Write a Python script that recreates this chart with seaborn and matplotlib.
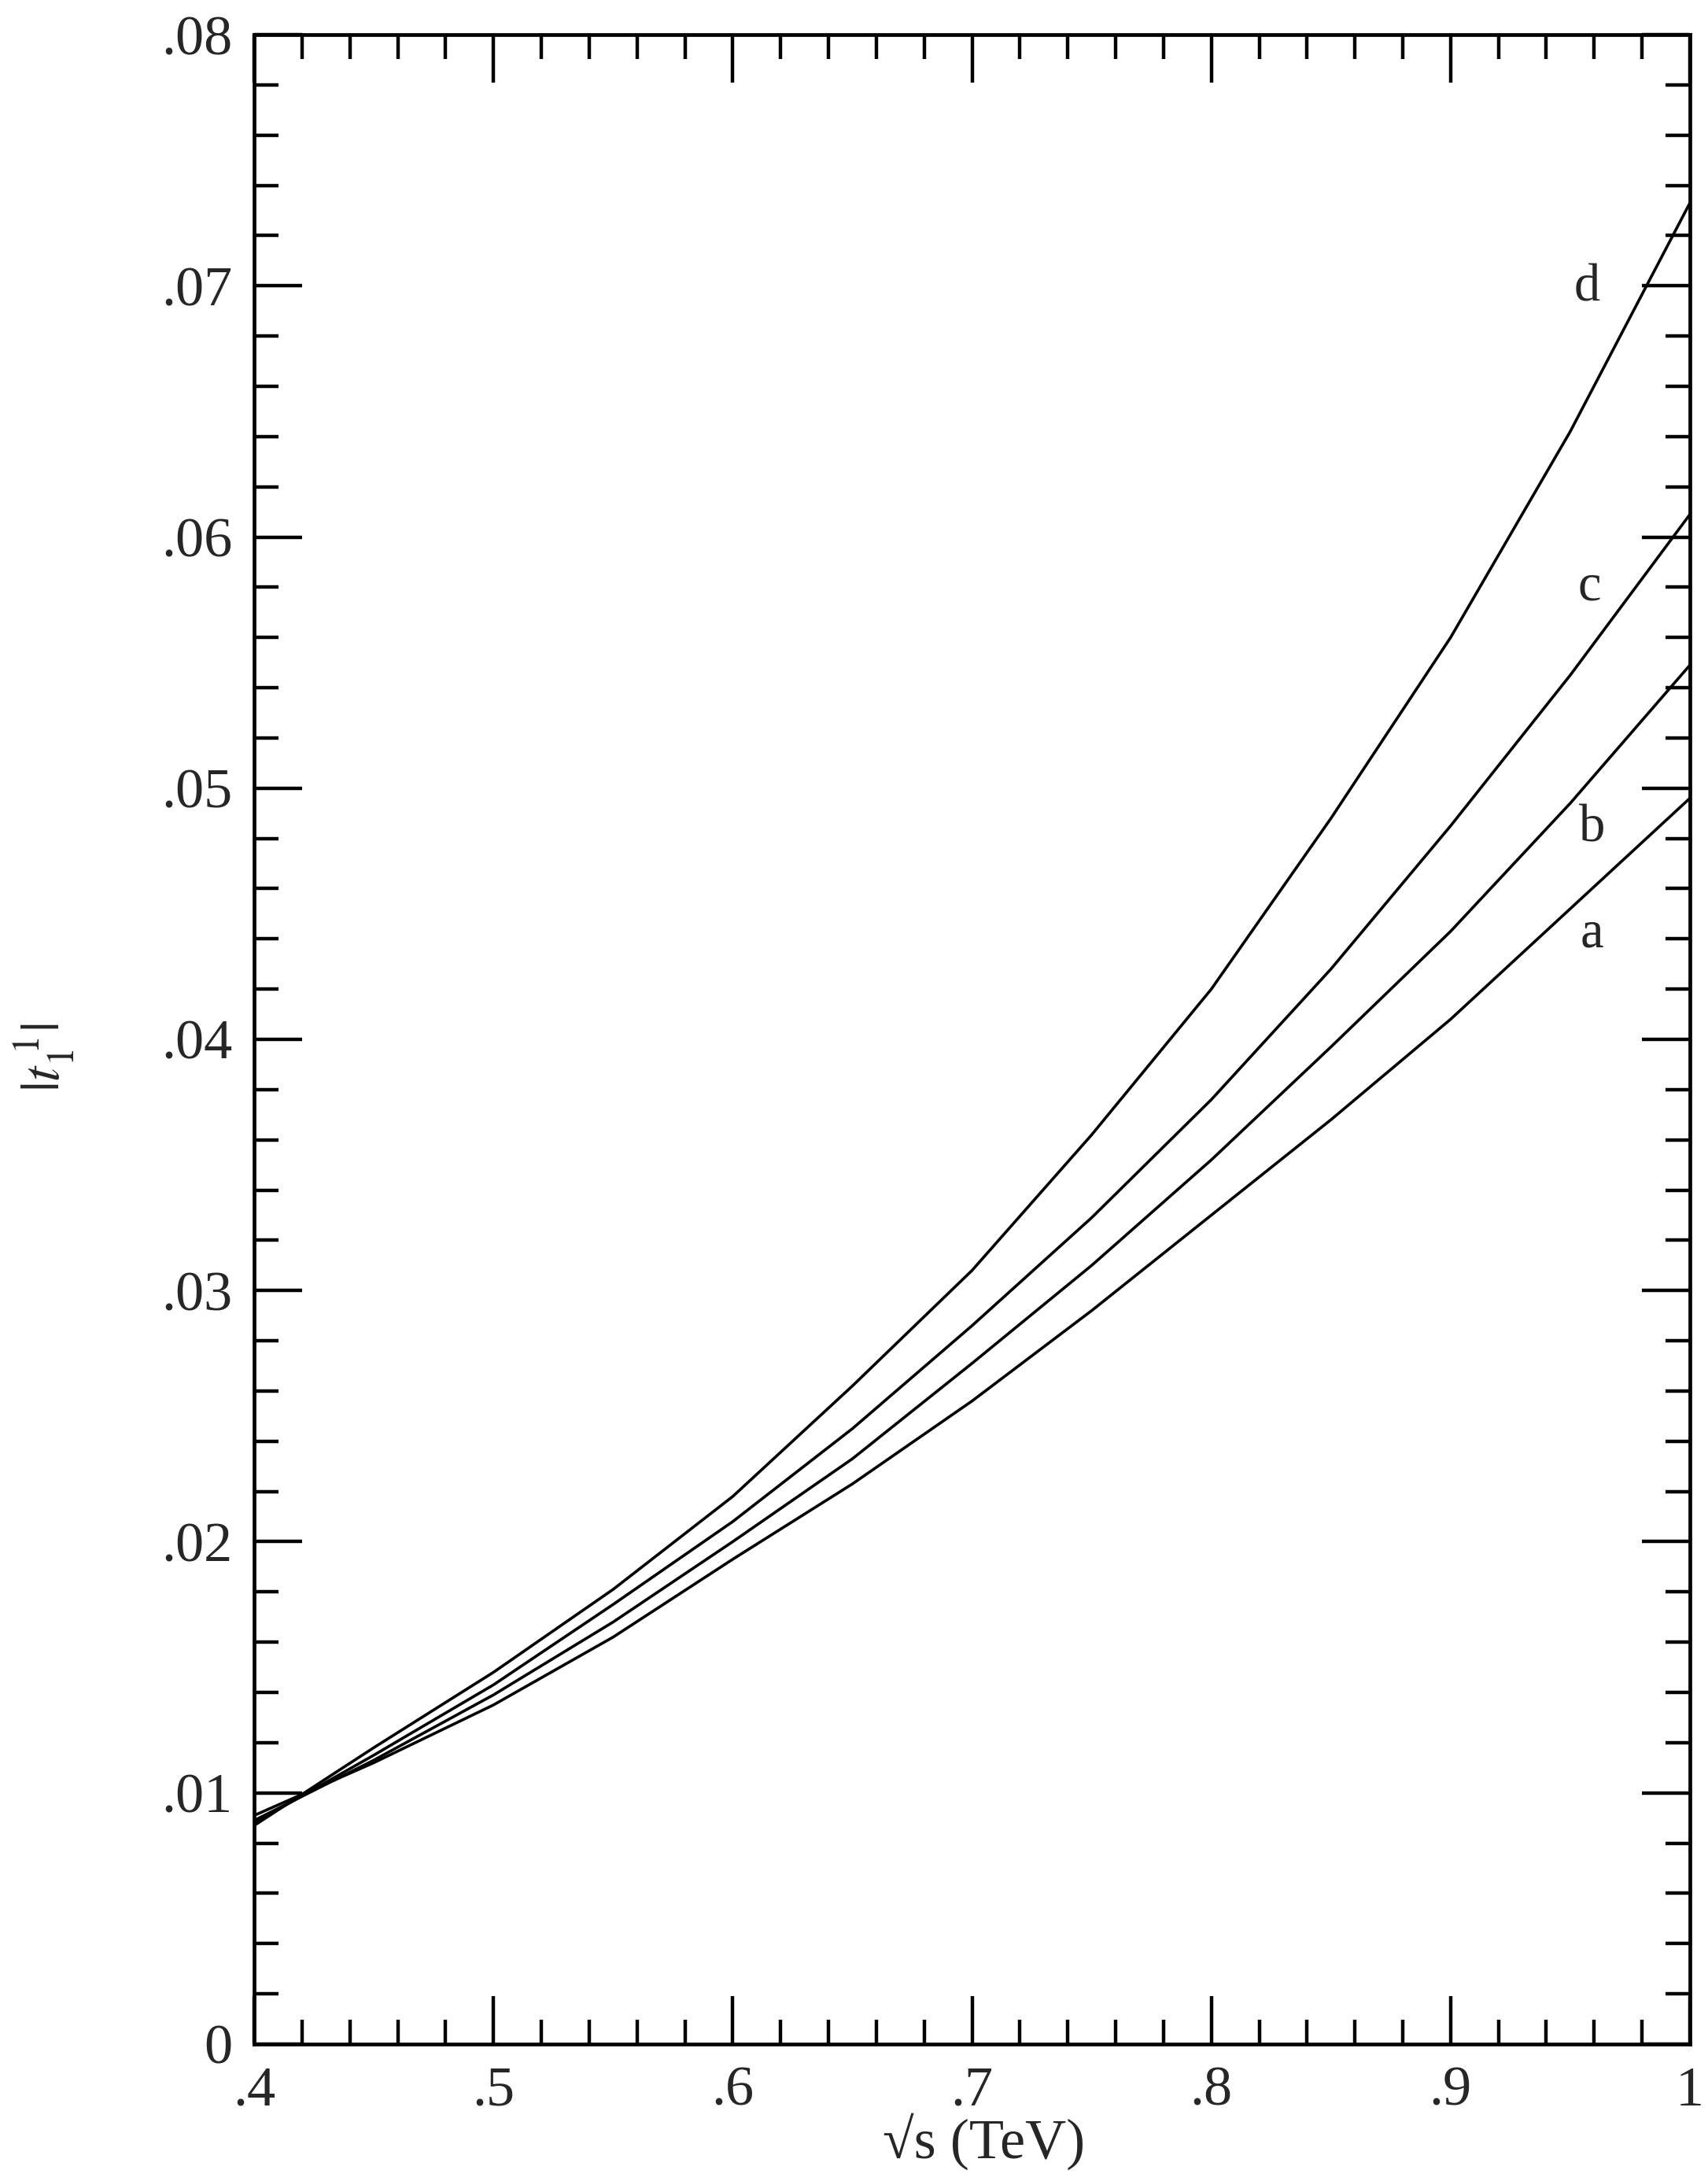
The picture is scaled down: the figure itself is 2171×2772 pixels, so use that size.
import pandas as pd
import numpy as np
import matplotlib
matplotlib.use('Agg')
import matplotlib.pyplot as plt
from matplotlib.ticker import MultipleLocator
import seaborn as sns

# Valeurs (sqrt(s) en TeV, |t_1^1|)
sqrt_s = [0.40, 0.45, 0.50, 0.55, 0.60, 0.65, 0.70, 0.75, 0.80, 0.85, 0.90, 0.95, 1.00]
curve_a = [0.0091, 0.0112, 0.0135, 0.0162, 0.0193, 0.0223, 0.0256, 0.0292, 0.0330, 0.0368, 0.0408, 0.0452, 0.0496]
curve_b = [0.0089, 0.0113, 0.0139, 0.0168, 0.0200, 0.0233, 0.0271, 0.0310, 0.0352, 0.0397, 0.0443, 0.0494, 0.0549]
curve_c = [0.0088, 0.0115, 0.0143, 0.0175, 0.0208, 0.0245, 0.0286, 0.0329, 0.0376, 0.0428, 0.0485, 0.0545, 0.0609]
curve_d = [0.0087, 0.0118, 0.0148, 0.0181, 0.0218, 0.0262, 0.0308, 0.0362, 0.0420, 0.0488, 0.0560, 0.0642, 0.0733]

curve_names = ['a', 'b', 'c', 'd']
# position des étiquettes a, b, c, d
label_x = [0.959, 0.959, 0.958, 0.957]
label_y = [0.0442, 0.0484, 0.0580, 0.0699]

x_ticks = [0.4, 0.5, 0.6, 0.7, 0.8, 0.9, 1.0]
x_tick_labels = ['.4', '.5', '.6', '.7', '.8', '.9', '1']
y_ticks = [0, 0.01, 0.02, 0.03, 0.04, 0.05, 0.06, 0.07, 0.08]
y_tick_labels = ['0', '.01', '.02', '.03', '.04', '.05', '.06', '.07', '.08']

# format long pour seaborn
df = pd.DataFrame({
    'sqrt_s': sqrt_s * 4,
    't11': curve_a + curve_b + curve_c + curve_d,
    'curve': np.repeat(curve_names, len(sqrt_s)),
})

sns.set_style('ticks')
plt.rcParams['font.family'] = ['Liberation Serif', 'DejaVu Serif']
plt.rcParams['mathtext.fontset'] = 'stix'

fig = plt.figure(figsize=(21.71, 27.72), dpi=100)
ax = fig.add_axes([0.1488, 0.0628, 0.8406, 0.9213])

sns.lineplot(data=df, x='sqrt_s', y='t11', hue='curve', palette=['black'] * 4,
             estimator=None, legend=False, linewidth=2.6, ax=ax)

ax.set_xlim(0.4, 1.0)
ax.set_ylim(0, 0.08)
ax.set_xticks(x_ticks, labels=x_tick_labels)
ax.set_yticks(y_ticks, labels=y_tick_labels)
ax.xaxis.set_minor_locator(MultipleLocator(0.02))
ax.yaxis.set_minor_locator(MultipleLocator(0.002))

ax.tick_params(which='both', direction='in', top=True, right=True, width=3.2, color='black')
ax.tick_params(which='major', length=44, labelsize=52, pad=20)
ax.tick_params(which='minor', length=22)
for side in ax.spines.values():
    side.set_linewidth(3.4)
    side.set_color('black')

for name, lx, ly in zip(curve_names, label_x, label_y):
    ax.text(lx, ly, name, fontsize=48, ha='center', va='center')

ax.set_xlabel('')
ax.set_ylabel('')
fig.text(0.576, 0.018, '√s (TeV)', fontsize=52, ha='center', va='center')
fig.text(0.026, 0.515, r'$|t_1^{\;1}|$', fontsize=50, ha='center', va='center', rotation=90)

fig.savefig('out.png', dpi=100, facecolor='white')
